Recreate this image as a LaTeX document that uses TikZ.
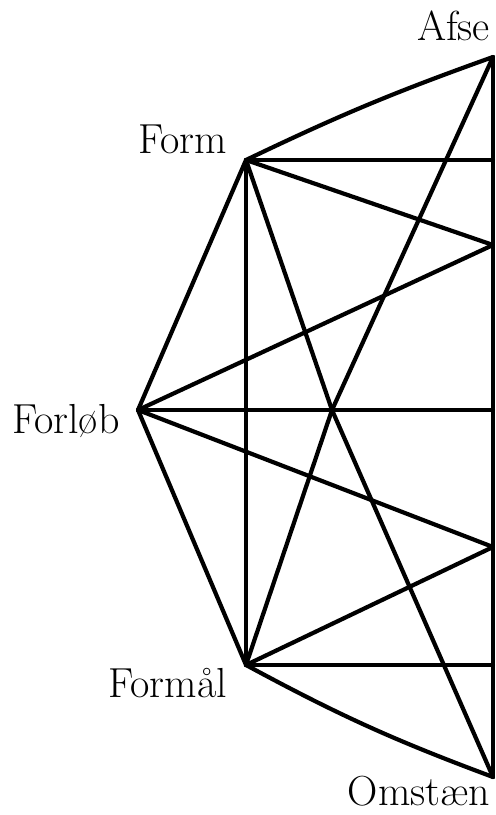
\documentclass[tikz,border=0pt]{standalone}
\usepackage{tikz}
\def\lw{2.1pt}
\def\rx{493}
\begin{document}
\begin{tikzpicture}[
    x=0.5pt, y=-0.5pt,
    line width=\lw, line cap=round, line join=round,
    lbl/.style={inner sep=0pt, font=\fontsize{21}{24}\selectfont}
]
\useasboundingbox (0,0) rectangle (495,815);
% corner points
\coordinate (afse) at (\rx,57);
\coordinate (form) at (246,160);
\coordinate (forlob) at (138,410);
\coordinate (formal) at (246,665);
\coordinate (omst) at (\rx,777);
% points on the right edge
\coordinate (r1) at (\rx,160);
\coordinate (r2) at (\rx,245);
\coordinate (r3) at (\rx,410);
\coordinate (r4) at (\rx,547);
\coordinate (r5) at (\rx,665);
\coordinate (mid) at (332,410);
% labels
\node[lbl, anchor=base east] (afsetxt) at (492,40) {Afse};
\node[lbl, anchor=base east] (formtxt) at (229,153) {Form};
\node[lbl, anchor=base west] (forlobtxt) at (10,433) {Forløb};
\node[lbl, anchor=base east] (formaltxt) at (229,697) {Formål};
\node[lbl, anchor=base east] (omsttxt) at (492,805) {Omstæn};
% edges
\draw (afse) -- (omst);
\draw (form) to[bend left=3] (afse);
\draw (form) -- (r1);
\draw (form) -- (r2);
\draw (form) -- (formal);
\draw (form) -- (forlob);
\draw (form) -- (mid) -- (omst);
\draw (afse) -- (mid) -- (formal);
\draw (forlob) -- (r2);
\draw (forlob) -- (r3);
\draw (forlob) -- (r4);
\draw (forlob) -- (formal);
\draw (formal) -- (r4);
\draw (formal) -- (r5);
\draw (formal) to[bend right=4] (omst);
\end{tikzpicture}
\end{document}
